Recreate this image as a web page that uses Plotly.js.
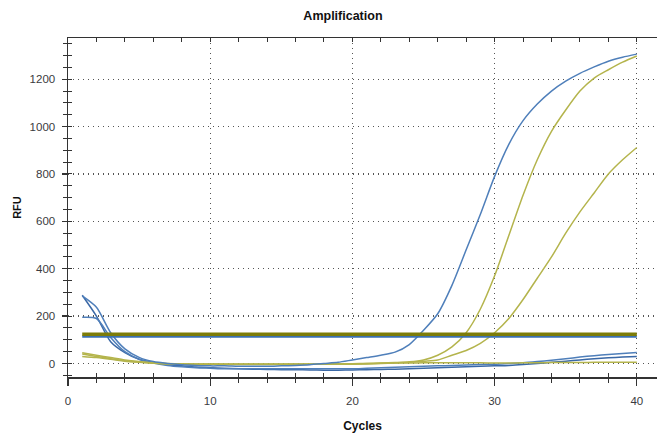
<!DOCTYPE html>
<html>
<head>
<meta charset="utf-8">
<script src="https://cdn.plot.ly/plotly-3.0.1.min.js"></script>
<style>html,body{margin:0;padding:0;background:#fff;}#chart{width:657px;height:439px;}</style>
</head>
<body>
<div id="chart"></div>
<script>
const cycles = [1,2,3,4,5,6,7,8,9,10,11,12,13,14,15,16,17,18,19,20,21,22,23,24,25,26,27,28,29,30,31,32,33,34,35,36,37,38,39,40];

// Blue channel
const blueAmp   = [285,237,130,62,26,8,0,-5,-8,-10,-10,-12,-12,-12,-10,-8,-5,0,5,15,25,35,48,80,140,210,330,480,630,790,925,1025,1095,1150,1192,1225,1252,1276,1293,1306];
const blueFlat1 = [288,200,92,46,18,4,-5,-10,-15,-18,-20,-22,-24,-25,-26,-26,-27,-28,-28,-27,-26,-25,-24,-22,-20,-18,-16,-14,-12,-10,-8,-4,0,5,10,15,20,24,27,30];
const blueFlat2 = [195,190,110,50,18,2,-8,-14,-18,-20,-22,-22,-22,-22,-22,-22,-22,-22,-22,-22,-20,-18,-16,-14,-12,-10,-8,-6,-4,-3,0,3,8,14,20,27,33,38,42,46];

// Olive channel
const oliveAmp1 = [45,35,25,15,8,3,0,-2,-3,-3,-4,-4,-4,-4,-4,-3,-3,-3,-2,-2,0,2,4,7,15,35,70,130,230,370,540,710,860,980,1070,1150,1205,1240,1272,1298];
const oliveAmp2 = [30,25,18,10,5,1,-2,-3,-3,-3,-3,-3,-3,-3,-3,-3,-3,-3,-3,-3,-2,0,2,5,10,15,35,55,85,130,190,270,360,450,550,640,720,800,860,912];
const oliveFlat = [40,30,20,12,6,2,-1,-2,-2,-2,-2,-2,-2,-2,-2,-2,-2,-2,-2,-1,0,1,2,2,3,3,3,3,3,2,2,3,3,4,4,4,5,5,5,5];

// Thresholds
const thrCycles = [1,40];
const oliveThreshold = [123,123];
const blueThreshold = [114,114];

const xRange = [0, 41.42];
const yRange = [-57, 1374];

const blueC = '#4f7fba', blueDark = '#3a68a6', oliveC = '#b4b44c';
const ln = (x, y, color, width, spline) => ({x, y, type:'scatter', mode:'lines',
  line:{color, width, shape: spline ? 'spline' : 'linear', smoothing:0.7}, hoverinfo:'skip', showlegend:false});

const traces = [
  ln(cycles, blueFlat1, blueDark, 1.5, true),
  ln(cycles, blueFlat2, blueC, 1.5, true),
  ln(cycles, oliveFlat, oliveC, 1.5, true),
  ln(cycles, oliveAmp2, oliveC, 1.5, true),
  ln(cycles, oliveAmp1, oliveC, 1.5, true),
  ln(cycles, blueAmp, blueC, 1.5, true),
  ln(thrCycles, blueThreshold, '#3b70b0', 2.5, false),
  ln(thrCycles, oliveThreshold, '#7c7c08', 3.5, false),
  {x:[0], y:[0], xaxis:'x2', yaxis:'y2', type:'scatter', mode:'markers', marker:{opacity:0}, hoverinfo:'skip', showlegend:false},
  {x:[0], y:[0], xaxis:'x3', yaxis:'y', type:'scatter', mode:'markers', marker:{opacity:0}, hoverinfo:'skip', showlegend:false}
];

const tickFont = {family:'Liberation Sans, Arial, sans-serif', size:11.5, color:'#3a3a40'};
const axisCol = '#333';
const gridDash = '1px,4px';

const layout = {
  width:657, height:439,
  margin:{l:68, r:0, t:38, b:62},
  paper_bgcolor:'#fff', plot_bgcolor:'#fff',
  title:{text:'Amplification', font:{family:'Liberation Sans, Arial, sans-serif', size:12.5, color:'#111', weight:'bold'}, x:0.522, xanchor:'center', y:0.965, yanchor:'middle'},
  xaxis:{range:xRange, dtick:10, tick0:0, ticks:'outside', ticklen:7, tickwidth:1.3, tickcolor:axisCol,
    minor:{dtick:2, tick0:0, ticks:'outside', ticklen:4, tickwidth:1, tickcolor:axisCol, showgrid:false},
    showline:true, linecolor:axisCol, linewidth:1.5, showgrid:true, gridcolor:'#555', griddash:gridDash, gridwidth:1.3,
    zeroline:false, tickfont:tickFont, ticklabelstandoff:6,
    title:{text:'Cycles', font:{family:'Liberation Sans, Arial, sans-serif', size:12, color:'#111', weight:'bold'}, standoff:15}},
  xaxis2:{overlaying:'x', anchor:'y', side:'bottom', range:xRange, dtick:2, tick0:0, ticks:'inside', ticklen:4, tickwidth:1, tickcolor:axisCol,
    showticklabels:false, showgrid:false, zeroline:false, showline:false},
  xaxis3:{overlaying:'x', anchor:'y', side:'top', range:xRange, dtick:2, tick0:0, ticks:'inside', ticklen:4, tickwidth:1, tickcolor:axisCol,
    showticklabels:false, showgrid:false, zeroline:false, showline:true, linecolor:axisCol, linewidth:1.5},
  yaxis:{range:yRange, dtick:200, tick0:0, ticks:'outside', ticklen:5, tickwidth:1.3, tickcolor:axisCol,
    minor:{dtick:50, tick0:0, ticks:'outside', ticklen:4, tickwidth:1, tickcolor:axisCol, showgrid:false},
    showline:true, linecolor:axisCol, linewidth:1.5, showgrid:true, gridcolor:'#555', griddash:gridDash, gridwidth:1.3,
    zeroline:false, tickfont:tickFont, ticklabelstandoff:4,
    title:{text:'RFU', font:{family:'Liberation Sans, Arial, sans-serif', size:11, color:'#111', weight:'bold'}, standoff:6}},
  yaxis2:{overlaying:'y', anchor:'x', side:'left', range:yRange, dtick:50, tick0:0, ticks:'inside', ticklen:4, tickwidth:1, tickcolor:axisCol,
    showticklabels:false, showgrid:false, zeroline:false, showline:false}
};

Plotly.newPlot('chart', traces, layout, {displayModeBar:false, staticPlot:true});
</script>
</body>
</html>
